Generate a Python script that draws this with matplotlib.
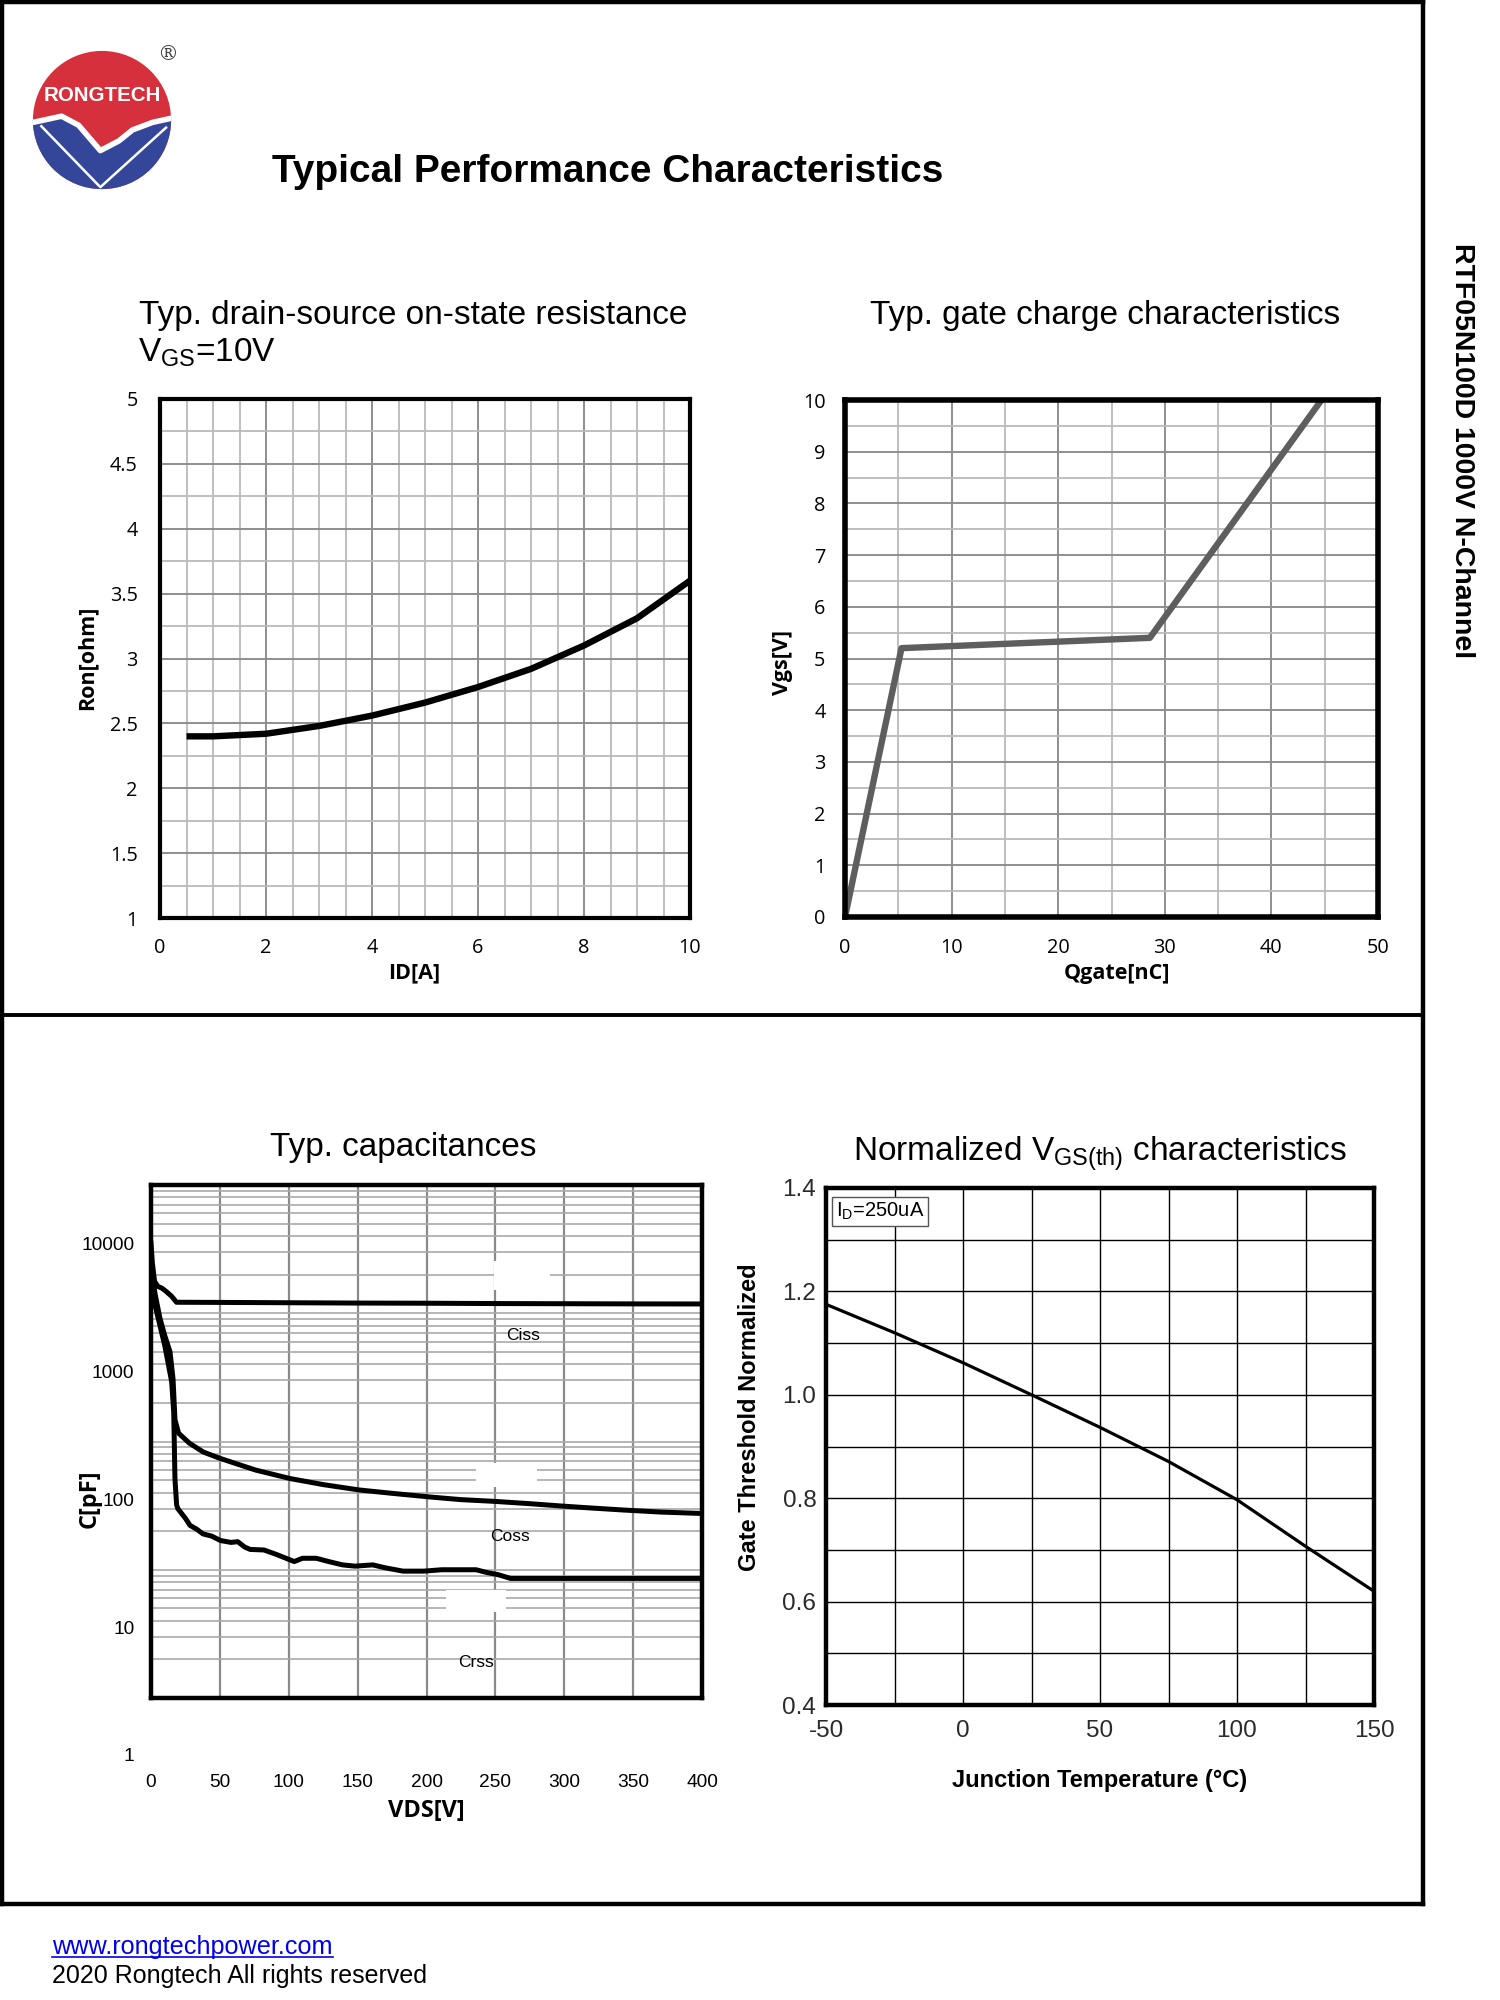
import matplotlib
matplotlib.use('Agg')
import matplotlib.pyplot as plt
from matplotlib.patches import Circle, Polygon, Rectangle
from matplotlib.lines import Line2D
from matplotlib.ticker import MultipleLocator, FixedLocator, NullFormatter
import numpy as np

plt.rcParams['mathtext.fontset'] = 'custom'
plt.rcParams['mathtext.rm'] = 'Liberation Sans'
plt.rcParams['mathtext.it'] = 'Liberation Sans:italic'
plt.rcParams['mathtext.bf'] = 'Liberation Sans:bold'
plt.rcParams['font.family'] = ['Liberation Sans', 'DejaVu Sans']
plt.rcParams['axes.unicode_minus'] = False

# ---------------- data ----------------
ron_id = [0.5, 1, 2, 3, 4, 5, 6, 7, 8, 9, 10]
ron_ohm = [2.40, 2.40, 2.42, 2.48, 2.56, 2.66, 2.78, 2.92, 3.10, 3.31, 3.60]

qg_nc = [0, 5.3, 28.6, 44.7]
vgs_v = [0, 5.2, 5.4, 10.0]

ciss_v = [0, 1, 2.6, 5, 8, 11, 15, 18.5, 50, 100, 150, 200, 250, 300, 350, 400]
ciss_pf = [10000, 7000, 5030, 4600, 4450, 4200, 3850, 3460, 3450, 3430, 3410, 3400, 3380, 3370, 3360, 3355]

coss_v = [0, 3, 6.5, 10, 13.8, 16, 17.4, 20, 28, 38, 50, 76, 101, 125, 151, 175, 202, 225, 249, 275, 299, 320, 343, 370, 400]
coss_pf = [6500, 4000, 2590, 1900, 1420, 870, 420, 330, 275, 235, 210, 170, 146, 131, 119, 112, 105, 100, 97, 93, 89, 86, 83, 80, 78]

crss_v = [0, 3, 10, 15, 16.5, 17.4, 18.6, 19.5, 25.2, 28.3, 33, 37.8, 44, 50.4, 58, 63, 68, 72, 82, 91, 98,
          104, 110, 120, 129, 139, 148, 161, 170, 183, 198, 211, 224, 236, 244, 252, 261, 400]
crss_pf = [7000, 3260, 1590, 830, 480, 144, 91, 85, 71, 63, 59, 54, 52, 48, 46.4, 47, 42.7, 40.9, 40.5, 37.4, 34.9,
           32.9, 34.9, 34.9, 32.9, 31, 30.3, 31, 29.4, 27.7, 27.7, 28.4, 28.4, 28.4, 27, 26, 24.3, 24.3]

tj_c = [-50, -25, 0, 25, 50, 75, 100, 125, 150]
vth_norm = [1.175, 1.12, 1.062, 1.0, 0.937, 0.871, 0.797, 0.707, 0.62]

cap_ticks = [10, 100, 1000, 10000]
cap_ticklabels = ['10', '100', '1000', '10000']

# ---------------- figure ----------------
W, H = 1500, 2000
fig = plt.figure(figsize=(15, 20), dpi=100)


def fxy(x, y):
    return x / W, 1 - y / H


def box(l, t, r, b):
    return [l / W, 1 - b / H, (r - l) / W, (b - t) / H]


def fline(x0, y0, x1, y1, lw=3.2):
    a = fxy(x0, y0)
    b = fxy(x1, y1)
    fig.add_artist(Line2D([a[0], b[0]], [a[1], b[1]], lw=lw, color='black',
                          transform=fig.transFigure, solid_capstyle='projecting'))


# page frame
fline(2, 2, 1423, 2)
fline(2, 2, 2, 1904)
fline(1423, 2, 1423, 1904)
fline(2, 1904, 1423, 1904)
fline(2, 1015, 1423, 1015, lw=2.8)

# ---------------- logo ----------------
axl = fig.add_axes(box(102 - 76, 120 - 76, 102 + 76, 120 + 76))
axl.set_xlim(-1.1, 1.1)
axl.set_ylim(-1.1, 1.1)
axl.set_aspect('equal')
axl.axis('off')
red, blue = '#d7303d', '#33469a'
circ = Circle((0, 0), 1, fc=red, ec='none')
axl.add_patch(circ)
wave = [(-1.2, 0.0), (-1.0, 0.0), (-0.585, 0.09), (-0.34, -0.04), (-0.024, -0.408),
        (0.244, -0.268), (0.44, -0.11), (0.73, 0.0), (1.0, 0.06), (1.2, 0.07)]
bl = Polygon(wave + [(1.2, -1.2), (-1.2, -1.2)], closed=True, fc=blue, ec='none')
axl.add_patch(bl)
bl.set_clip_path(circ)
wx, wy = zip(*wave)
wl = axl.plot(wx, [v - 0.035 for v in wy], color='white', lw=4)[0]
wl.set_clip_path(circ)
vl = axl.plot([-0.878, -0.024, 0.927], [-0.09, -0.972, -0.11], color='white', lw=1.8)[0]
vl.set_clip_path(circ)
axl.text(0.0, 0.36, 'RONGTECH', color='white', fontsize=14.8, fontweight='bold',
         ha='center', va='center')
fig.text(*fxy(168, 55), '®', fontsize=15, ha='center', va='center', color='#444444',
         family='DejaVu Serif')

# ---------------- titles ----------------
fig.text(*fxy(272, 182), 'Typical Performance Characteristics', fontsize=28,
         fontweight='bold', ha='left', va='baseline')
fig.text(*fxy(139, 324), 'Typ. drain-source on-state resistance', fontsize=24,
         ha='left', va='baseline')
fig.text(*fxy(138, 362), r'V$_{\mathrm{GS}}$=10V', fontsize=24, ha='left', va='baseline')
fig.text(*fxy(1105, 324), 'Typ. gate charge characteristics', fontsize=24,
         ha='center', va='baseline')
fig.text(*fxy(403, 1156), 'Typ. capacitances', fontsize=24, ha='center', va='baseline')
fig.text(*fxy(1100, 1161), r'Normalized V$_{\mathrm{GS(th)}}$ characteristics', fontsize=24,
         ha='center', va='baseline')
fig.text(*fxy(1462, 451), 'RTF05N100D 1000V N-Channel', fontsize=20.5, fontweight='bold',
         rotation=-90, ha='center', va='center')

url = fig.text(*fxy(52, 1954), 'www.rongtechpower.com', fontsize=18.2, color='#0000ee',
               ha='left', va='baseline')
fig.text(*fxy(52, 1983), '2020 Rongtech All rights reserved', fontsize=18,
         ha='left', va='baseline')

OS = 'Open Sans'

# ---------------- plot 1 ----------------
ax1 = fig.add_axes(box(160, 399, 690, 918))
ax1.plot(ron_id, ron_ohm, color='black', lw=4.6, solid_capstyle='butt')
ax1.set_xlim(0, 10)
ax1.set_ylim(1, 5)
ax1.xaxis.set_major_locator(MultipleLocator(2))
ax1.xaxis.set_minor_locator(MultipleLocator(0.5))
ax1.yaxis.set_major_locator(MultipleLocator(0.5))
ax1.yaxis.set_minor_locator(MultipleLocator(0.25))
ax1.set_yticks([1, 1.5, 2, 2.5, 3, 3.5, 4, 4.5, 5])
ax1.set_yticklabels(['1', '1.5', '2', '2.5', '3', '3.5', '4', '4.5', '5'])
ax1.set_axisbelow(True)
ax1.grid(which='major', color='#8e8e8e', lw=1.4)
ax1.grid(which='minor', color='#bababa', lw=1.3)
ax1.tick_params(which='both', length=0)
ax1.tick_params(axis='y', pad=16)
ax1.tick_params(axis='x', pad=14.5)
for t in ax1.get_xticklabels() + ax1.get_yticklabels():
    t.set_family(OS)
    t.set_fontsize(14.3)
for s in ax1.spines.values():
    s.set_linewidth(3)
ax1.set_xlabel('ID[A]', family=OS, fontweight='bold', fontsize=15.5, va='center')
ax1.set_ylabel('Ron[ohm]', family=OS, fontweight='bold', fontsize=15.5, va='center')
ax1.xaxis.set_label_coords(0.479, -0.106)
ax1.yaxis.set_label_coords(-0.138, 0.501)

# ---------------- plot 2 ----------------
ax2 = fig.add_axes(box(845, 400, 1378, 917))
ax2.plot(qg_nc, vgs_v, color='#5e5e5e', lw=4.6, solid_capstyle='butt')
ax2.set_xlim(0, 50)
ax2.set_ylim(0, 10)
ax2.xaxis.set_major_locator(MultipleLocator(10))
ax2.xaxis.set_minor_locator(MultipleLocator(5))
ax2.yaxis.set_major_locator(MultipleLocator(1))
ax2.yaxis.set_minor_locator(MultipleLocator(0.5))
ax2.set_axisbelow(True)
ax2.grid(which='major', color='#8e8e8e', lw=1.4)
ax2.grid(which='minor', color='#bababa', lw=1.3)
ax2.tick_params(which='both', length=0)
ax2.tick_params(axis='y', pad=14)
ax2.tick_params(axis='x', pad=15)
for t in ax2.get_xticklabels() + ax2.get_yticklabels():
    t.set_family(OS)
    t.set_fontsize(14.3)
for s in ax2.spines.values():
    s.set_linewidth(4)
ax2.set_xlabel('Qgate[nC]', family=OS, fontweight='bold', fontsize=15.5, va='center')
ax2.set_ylabel('Vgs[V]', family=OS, fontweight='bold', fontsize=15.5, va='center')
ax2.xaxis.set_label_coords(0.51, -0.11)
ax2.yaxis.set_label_coords(-0.118, 0.493)

# ---------------- plot 3 ----------------
ax3 = fig.add_axes(box(151, 1185, 702, 1698))
ax3.set_yscale('log')
ybot = 2.84
ax3.set_ylim(ybot, ybot * 1e4)
ax3.set_xlim(0, 400)
ax3.plot(ciss_v, ciss_pf, color='black', lw=3.6, zorder=3)
ax3.plot(coss_v, coss_pf, color='black', lw=3.6, zorder=3)
ax3.plot(crss_v, crss_pf, color='black', lw=3.6, zorder=3)
ax3.yaxis.set_major_locator(FixedLocator(cap_ticks))
ax3.set_yticklabels(cap_ticklabels)
grid_pos = [ybot * m * 10 ** j for j in range(4) for m in range(1, 10)]
ax3.yaxis.set_minor_locator(FixedLocator(grid_pos))
ax3.yaxis.set_minor_formatter(NullFormatter())
ax3.xaxis.set_major_locator(MultipleLocator(50))
ax3.set_axisbelow(True)
ax3.grid(axis='y', which='minor', color='#a9a9a9', lw=1.2)
ax3.grid(axis='x', which='major', color='#8a8a8a', lw=1.6)
ax3.tick_params(which='both', length=0)
ax3.tick_params(axis='y', pad=12)
ax3.tick_params(axis='x', pad=55)
for t in ax3.get_xticklabels() + ax3.get_yticklabels():
    t.set_fontsize(13.8)
ax3.text(-17 / 551, 1, '1', transform=ax3.get_yaxis_transform(), ha='right', va='center',
         fontsize=13.8, clip_on=False)
for s in ax3.spines.values():
    s.set_linewidth(3.2)
for (x0, x1, y0, y1) in [(249, 290, 4300, 7200), (236, 280, 126, 193), (214, 258, 13.3, 19.6)]:
    ax3.add_patch(Rectangle((x0, y0), x1 - x0, y1 - y0, fc='white', ec='none', zorder=1))
ax3.text(270, 1890, 'Ciss', fontsize=12.5, ha='center', va='center', zorder=4)
ax3.text(260.5, 51.5, 'Coss', fontsize=12.5, ha='center', va='center', zorder=4)
ax3.text(235.6, 5.37, 'Crss', fontsize=12.5, ha='center', va='center', zorder=4)
ax3.set_xlabel('VDS[V]', family=OS, fontweight='bold', fontsize=17, va='center')
ax3.set_ylabel('C[pF]', family=OS, fontweight='bold', fontsize=17, va='center')
ax3.xaxis.set_label_coords(0.5, -0.22)
ax3.yaxis.set_label_coords(-0.111, 0.388)

# ---------------- plot 4 ----------------
ax4 = fig.add_axes(box(826, 1188, 1374, 1705))
ax4.plot(tj_c, vth_norm, color='black', lw=2.3, zorder=3)
ax4.set_xlim(-50, 150)
ax4.set_ylim(0.4, 1.4)
ax4.xaxis.set_major_locator(MultipleLocator(50))
ax4.xaxis.set_minor_locator(MultipleLocator(25))
ax4.set_yticks([0.4, 0.6, 0.8, 1.0, 1.2, 1.4])
ax4.set_yticklabels(['0.4', '0.6', '0.8', '1.0', '1.2', '1.4'])
ax4.yaxis.set_minor_locator(MultipleLocator(0.1))
ax4.set_axisbelow(True)
ax4.grid(which='both', color='black', lw=1.0)
ax4.tick_params(which='both', length=0)
ax4.tick_params(axis='y', pad=7)
ax4.tick_params(axis='x', pad=11)
for t in ax4.get_xticklabels() + ax4.get_yticklabels():
    t.set_fontsize(17.5)
    t.set_color('#2a2a2a')
for s in ax4.spines.values():
    s.set_linewidth(3.2)
ax4.text(0.018, 0.975, r'I$_{\mathrm{D}}$=250uA', transform=ax4.transAxes, ha='left', va='top',
         fontsize=14.5, zorder=5,
         bbox=dict(boxstyle='square,pad=0.2', fc='white', ec='#555555', lw=1))
ax4.set_xlabel('Junction Temperature (°C)', fontweight='bold', fontsize=17, va='center')
ax4.set_ylabel('Gate Threshold Normalized', fontweight='bold', fontsize=17, va='center')
ax4.xaxis.set_label_coords(0.5, -0.147)
ax4.yaxis.set_label_coords(-0.139, 0.557)

# underline for url
fig.canvas.draw()
bb = url.get_window_extent()
uy = 1 - 1957 / H
fig.add_artist(Line2D([bb.x0 / W, bb.x1 / W], [uy, uy], color='#0000ee', lw=1.2,
                      transform=fig.transFigure))

fig.savefig('out.png', dpi=100)
